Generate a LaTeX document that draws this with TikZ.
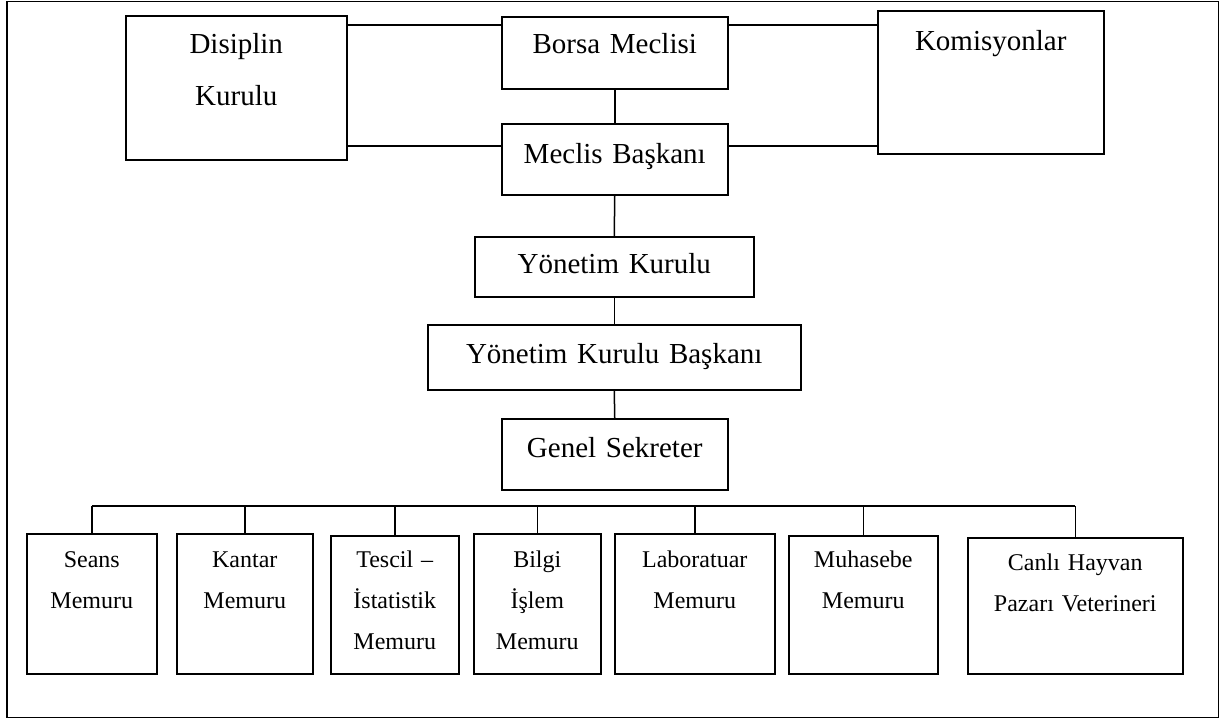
\documentclass[tikz,border=0pt]{standalone}
\usepackage{fontspec}
\setmainfont{Liberation Serif}

\tikzset{
  board/.style={rectangle, draw, line width=1.5pt, anchor=north west, inner sep=0pt,
    align=center, font=\fontsize{29pt}{52pt}\selectfont},
  staff/.style={rectangle, draw, line width=1.5pt, anchor=north west, inner sep=0pt,
    align=center, font=\fontsize{24pt}{41pt}\selectfont},
  link/.style={line width=1.5pt}
}

\begin{document}
\begin{tikzpicture}[x=1pt, y=-1pt]

    \useasboundingbox (0,0) rectangle (1220,720);
    \draw [line width=1.5pt] (7,1.5) rectangle (1218.5,717.5);

    % meclis level
    \node (dk) [board, text width=221pt, text height=38pt, text depth=106pt] at (125,15) {Disiplin\\Kurulu};
    \node (bm) [board, text width=226pt, text height=37pt, text depth=35pt] at (501,16) {Borsa Meclisi};
    \node (mb) [board, text width=226pt, text height=40pt, text depth=31pt] at (501,123) {Meclis Başkanı};
    \node (ko) [board, text width=226pt, text height=40pt, text depth=103pt] at (877,10) {Komisyonlar};

    % yonetim
    \node (yk) [board, text width=279pt, text height=37pt, text depth=23pt] at (474,236) {Yönetim Kurulu};
    \node (ykb) [board, text width=373pt, text height=39pt, text depth=26pt] at (427,324) {Yönetim Kurulu Başkanı};
    \node (gs) [board, text width=226pt, text height=39pt, text depth=32pt] at (501,418) {Genel Sekreter};

    % memurlar
    \node (sm) [staff, text width=130pt, text height=34pt, text depth=106pt] at (26,533) {Seans\\Memuru};
    \node (km) [staff, text width=136pt, text height=34pt, text depth=106pt] at (176,533) {Kantar\\Memuru};
    \node (ts) [staff, text width=128pt, text height=32pt, text depth=106pt] at (330,535) {Tescil –\\İstatistik\\Memuru};
    \node (bi) [staff, text width=127pt, text height=34pt, text depth=106pt] at (473,533) {Bilgi\\İşlem\\Memuru};
    \node (lm) [staff, text width=160pt, text height=34pt, text depth=106pt] at (614,533) {Laboratuar\\Memuru};
    \node (mm) [staff, text width=149pt, text height=32pt, text depth=106pt] at (788,535) {Muhasebe\\Memuru};
    \node (cv) [staff, text width=215pt, text height=33pt, text depth=103pt] at (967,537) {Canlı Hayvan\\Pazarı Veterineri};

    \draw [link] (dk.east |- 0,25) -- (bm.west |- 0,25);
    \draw [link] (dk.east |- 0,146) -- (mb.west |- 0,146);
    \draw [link] (bm.east |- 0,25) -- (ko.west |- 0,25);
    \draw [link] (mb.east |- 0,146) -- (ko.west |- 0,146);

    \draw [link] (bm.south) -- (mb.north);
    \draw [link] (mb.south) -- (yk.north);
    \draw [link] (yk.south) -- (ykb.north);
    \draw [link] (ykb.south) -- (gs.north);

    \draw [link] (sm.north |- 0,506) -- (cv.north |- 0,506);
    \foreach \n in {sm,km,ts,bi,lm,mm,cv}
        \draw [link] (\n.north |- 0,506) -- (\n.north);
\end{tikzpicture}
\end{document}
